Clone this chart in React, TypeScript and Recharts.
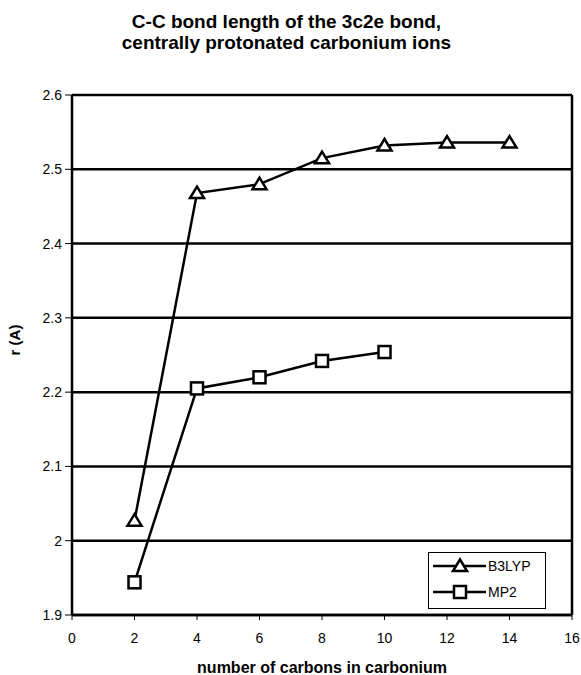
import React from 'react';
import { LineChart, Line, XAxis, YAxis, CartesianGrid, ReferenceLine } from 'recharts';

// number of carbons in the carbonium ion
const carbons = [2, 4, 6, 8, 10, 12, 14];
// C-C bond length (A)
const b3lypValues = [2.027, 2.468, 2.48, 2.515, 2.532, 2.536, 2.536];
const mp2Values = [1.944, 2.205, 2.22, 2.242, 2.254];

const xTicks = [0, 2, 4, 6, 8, 10, 12, 14, 16];
const yTicks = [1.9, 2.0, 2.1, 2.2, 2.3, 2.4, 2.5, 2.6];
const seriesNames = ['B3LYP', 'MP2'];

const data = carbons.map((n, i) => ({
  n,
  b3lyp: b3lypValues[i],
  mp2: i < mp2Values.length ? mp2Values[i] : null,
}));

const font = '"Liberation Sans", Arial, sans-serif';

const trianglePath = (cx: number, cy: number) =>
  `M${cx},${cy - 6.5}L${cx + 7},${cy + 5}L${cx - 7},${cy + 5}Z`;

const TriangleDot = (props: any) => {
  const { cx, cy, index } = props;
  if (cx == null || cy == null || isNaN(cy)) return <g key={`t-${index}`} />;
  return <path key={`t-${index}`} d={trianglePath(cx, cy)} fill="#fff" stroke="#000" strokeWidth={2.5} />;
};

const SquareDot = (props: any) => {
  const { cx, cy, index } = props;
  if (cx == null || cy == null || isNaN(cy)) return <g key={`s-${index}`} />;
  return <rect key={`s-${index}`} x={cx - 6} y={cy - 6} width={12} height={12} fill="#fff" stroke="#000" strokeWidth={2.5} />;
};

const fmtY = (v: number) => String(Number(v.toFixed(1)));

const LegendBox = () => (
  <div
    style={{
      position: 'absolute',
      left: 428,
      top: 552,
      width: 118,
      height: 57,
      border: '1px solid #000',
      background: '#fff',
      boxSizing: 'border-box',
    }}
  >
    <svg width={116} height={55} style={{ position: 'absolute', left: 0, top: 0 }}>
      {seriesNames.map((name, i) => {
        const y = 13 + i * 26;
        return (
          <g key={name}>
            <line x1={4} x2={57} y1={y} y2={y} stroke="#000" strokeWidth={2.5} />
            {i === 0 ? (
              <path d={trianglePath(31, y)} fill="#fff" stroke="#000" strokeWidth={2.5} />
            ) : (
              <rect x={25} y={y - 6} width={12} height={12} fill="#fff" stroke="#000" strokeWidth={2.5} />
            )}
            <text x={59} y={y + 5} fontSize={14} fontFamily={font} fill="#000">
              {name}
            </text>
          </g>
        );
      })}
    </svg>
  </div>
);

export default function App() {
  return (
    <div style={{ position: 'absolute', left: 0, top: 0, width: 581, height: 675, background: '#fff', fontFamily: font }}>
      <div style={{ position: 'absolute', left: -4, top: 11, width: 581, textAlign: 'center', fontWeight: 'bold', fontSize: 19, lineHeight: '21px' }}>
        C-C bond length of the 3c2e bond,
        <br />
        centrally protonated carbonium ions
      </div>
      <LineChart width={581} height={675} data={data} margin={{ top: 95, right: 9, bottom: 0, left: 0 }}>
        <CartesianGrid vertical={false} stroke="#000" strokeWidth={2.5} strokeOpacity={1} />
        <XAxis
          dataKey="n"
          type="number"
          domain={[0, 16]}
          ticks={xTicks}
          height={60}
          tickSize={5}
          tickMargin={13}
          axisLine={{ stroke: '#000', strokeWidth: 2.5 }}
          tickLine={{ stroke: '#000' }}
          tick={{ fill: '#000', fontSize: 14, fontFamily: font }}
          label={{
            value: 'number of carbons in carbonium',
            position: 'insideBottom',
            offset: 2,
            style: { fill: '#000', fontSize: 16, fontWeight: 'bold', fontFamily: font },
          }}
        />
        <YAxis
          type="number"
          domain={[1.9, 2.6]}
          ticks={yTicks}
          width={72}
          tickSize={7}
          tickMargin={3}
          tickFormatter={fmtY}
          axisLine={{ stroke: '#000', strokeWidth: 2.5 }}
          tickLine={{ stroke: '#000' }}
          tick={{ fill: '#000', fontSize: 14, fontFamily: font }}
          label={{
            content: () => (
              <text
                x={20}
                y={340}
                transform="rotate(-90, 20, 340)"
                textAnchor="middle"
                fontSize={15}
                fontWeight="bold"
                fontFamily={font}
                fill="#000"
              >
                r (A)
              </text>
            ),
          }}
        />
        <ReferenceLine x={16} stroke="#000" strokeWidth={2.5} />
        <Line
          dataKey="b3lyp"
          name={seriesNames[0]}
          type="linear"
          stroke="#000"
          strokeWidth={2.5}
          dot={TriangleDot}
          activeDot={false}
          isAnimationActive={false}
        />
        <Line
          dataKey="mp2"
          name={seriesNames[1]}
          type="linear"
          stroke="#000"
          strokeWidth={2.5}
          dot={SquareDot}
          activeDot={false}
          isAnimationActive={false}
        />
      </LineChart>
      <LegendBox />
    </div>
  );
}
